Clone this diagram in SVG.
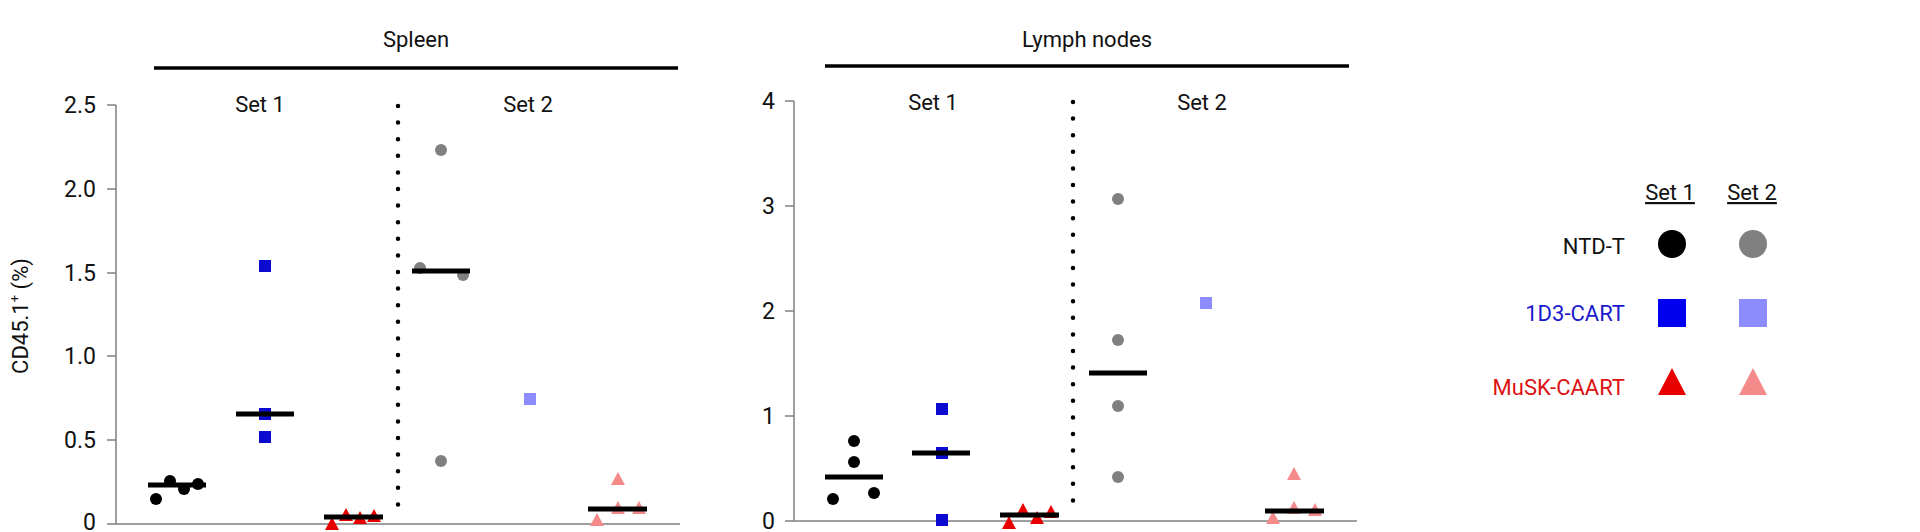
<svg xmlns="http://www.w3.org/2000/svg" width="1920" height="532" viewBox="0 0 1920 532">
<defs>
<style>
text{font-family:Roboto,Inter,"Liberation Sans",sans-serif;font-size:22px;fill:#111}
.tk{text-anchor:end;font-size:23px}
.c{text-anchor:middle}
.ax{stroke:#808080;stroke-width:1.5;fill:none}
.hd{stroke:#000;stroke-width:3.5}
.bar{stroke:#000;stroke-width:5}
.dot{stroke:#000;stroke-width:4.5;stroke-linecap:round;stroke-dasharray:0 16.6;fill:none}
.k{fill:#000}.g{fill:#808080}.b{fill:#0a0ad0}.lb{fill:#8c8cff}.r{fill:#e80000}.lr{fill:#f58a8a}
</style>
<circle id="cir" r="6"/>
<rect id="sq" x="-6" y="-6" width="12" height="12"/>
<polygon id="tri" points="0,-7 7,6 -7,6"/>
</defs>
<g id="spleen">
<text class="c" x="416" y="47">Spleen</text>
<line class="hd" x1="154" y1="68" x2="678" y2="68"/>
<path class="ax" d="M116,105V524H680M107,105H116M107,189H116M107,273H116M107,356H116M107,440H116M107,524H116"/>
<text class="tk" x="96" y="113">2.5</text><text class="tk" x="96" y="197">2.0</text><text class="tk" x="96" y="281">1.5</text><text class="tk" x="96" y="364">1.0</text><text class="tk" x="96" y="448">0.5</text><text class="tk" x="96" y="530">0</text>
<text class="c" transform="translate(28,316) rotate(-90)">CD45.1<tspan font-size="13" dy="-9">+</tspan><tspan dy="9"> (%)</tspan></text>
<text class="c" x="260" y="112">Set 1</text><text class="c" x="528" y="112">Set 2</text>
<line class="dot" x1="398" y1="106" x2="398" y2="510"/>
<g class="k"><use href="#cir" x="156" y="499"/><use href="#cir" x="170" y="481"/><use href="#cir" x="184" y="489"/><use href="#cir" x="198" y="484"/></g>
<g class="b"><use href="#sq" x="265" y="266"/><use href="#sq" x="265" y="414"/><use href="#sq" x="265" y="437"/></g>
<g class="r"><use href="#tri" x="332" y="524"/><use href="#tri" x="346" y="515"/><use href="#tri" x="360" y="518"/><use href="#tri" x="374" y="516"/></g>
<g class="g"><use href="#cir" x="441" y="150"/><use href="#cir" x="420" y="268"/><use href="#cir" x="463" y="275"/><use href="#cir" x="441" y="461"/></g>
<use class="lb" href="#sq" x="530" y="399"/>
<g class="lr"><use href="#tri" x="618" y="479"/><use href="#tri" x="597" y="520"/><use href="#tri" x="618" y="508"/><use href="#tri" x="639" y="508"/></g>
<path class="bar" d="M148,485H206M236,414H294M324,517H383M412,271H470M588,509H647"/>
</g>
<g id="lymph">
<text class="c" x="1087" y="47">Lymph nodes</text>
<line class="hd" x1="825" y1="66" x2="1349" y2="66"/>
<path class="ax" d="M794,101V521H1357M785,101H794M785,206H794M785,311H794M785,416H794M785,521H794"/>
<text class="tk" x="775" y="109">4</text><text class="tk" x="775" y="214">3</text><text class="tk" x="775" y="319">2</text><text class="tk" x="775" y="424">1</text><text class="tk" x="775" y="529">0</text>
<text class="c" x="933" y="110">Set 1</text><text class="c" x="1202" y="110">Set 2</text>
<line class="dot" x1="1073" y1="102" x2="1073" y2="507"/>
<g class="k"><use href="#cir" x="833" y="499"/><use href="#cir" x="854" y="462"/><use href="#cir" x="854" y="441"/><use href="#cir" x="874" y="493"/></g>
<g class="b"><use href="#sq" x="942" y="409"/><use href="#sq" x="942" y="453"/><use href="#sq" x="942" y="520"/></g>
<g class="r"><use href="#tri" x="1009" y="523"/><use href="#tri" x="1023" y="510"/><use href="#tri" x="1037" y="518"/><use href="#tri" x="1051" y="512"/></g>
<g class="g"><use href="#cir" x="1118" y="199"/><use href="#cir" x="1118" y="340"/><use href="#cir" x="1118" y="406"/><use href="#cir" x="1118" y="477"/></g>
<use class="lb" href="#sq" x="1206" y="303"/>
<g class="lr"><use href="#tri" x="1294" y="474"/><use href="#tri" x="1273" y="518"/><use href="#tri" x="1294" y="508"/><use href="#tri" x="1315" y="510"/></g>
<path class="bar" d="M825,477H883M912,453H970M1000,515H1059M1089,373H1147M1265,511H1324"/>
</g>
<g id="legend">
<text class="c" x="1670" y="200" text-decoration="underline">Set 1</text>
<text class="c" x="1752" y="200" text-decoration="underline">Set 2</text>
<text x="1625" y="254" text-anchor="end">NTD-T</text>
<text x="1625" y="321" text-anchor="end" style="fill:#1a1acc">1D3-CART</text>
<text x="1625" y="395" text-anchor="end" style="fill:#dd1111">MuSK-CAART</text>
<circle class="k" cx="1672" cy="244" r="14"/><circle class="g" cx="1753" cy="244" r="14"/>
<rect x="1658" y="299" width="28" height="28" fill="#0000ee"/><rect class="lb" x="1739" y="299" width="28" height="28"/>
<polygon class="r" points="1672,368 1686,395 1658,395"/><polygon class="lr" points="1753,368 1767,395 1739,395"/>
</g>
</svg>
